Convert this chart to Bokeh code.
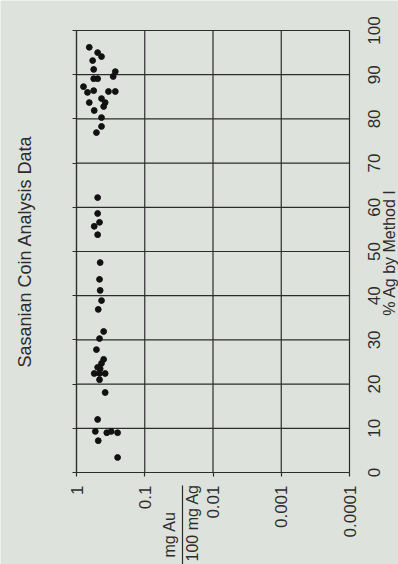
import math
from bokeh.plotting import figure
from bokeh.models import (Range1d, FixedTicker, CustomJSTickFormatter, Label, ColumnDataSource)
from bokeh.core.properties import value
from bokeh.embed import file_html
from bokeh.resources import INLINE

# ---- text ----
title_text = "Sasanian Coin Analysis Data"
ag_axis_title = "% Ag by Method I"
au_axis_numerator = "mg Au"
au_axis_denominator = "100 mg Ag"

# ---- ticks ----
au_ticks = [0.0001, 0.001, 0.01, 0.1, 1]
ag_ticks = [0, 10, 20, 30, 40, 50, 60, 70, 80, 90, 100]
ag_tick_labels = ["0", "10", "20", "30", "40", "50", "60", "70", "80", "90", "100"]

# ---- data ----
ag_pct = [96.2, 95.0, 94.1, 93.2, 91.2, 90.7, 89.1, 89.1, 89.6, 87.3,
          86.0, 86.4, 86.2, 86.2, 83.7, 84.6, 83.7, 82.8, 81.9, 80.3,
          78.3, 76.9, 62.2, 58.6, 56.6, 55.7, 53.8, 47.5, 43.7, 41.2,
          38.9, 36.9, 31.9, 30.3, 27.8, 25.6, 24.7, 23.8, 23.5, 22.4,
          22.4, 22.4, 21.0, 18.1, 12.0, 9.3, 9.0, 9.3, 9.0, 7.2, 3.4]
au_mg_per_100mg_ag = [0.65, 0.49, 0.43, 0.58, 0.56, 0.27, 0.56, 0.49, 0.29, 0.79,
                      0.69, 0.56, 0.34, 0.27, 0.65, 0.43, 0.38, 0.40, 0.55, 0.43,
                      0.43, 0.51, 0.49, 0.49, 0.46, 0.55, 0.49, 0.45, 0.46, 0.45,
                      0.43, 0.48, 0.40, 0.46, 0.51, 0.40, 0.43, 0.49, 0.45, 0.55,
                      0.46, 0.38, 0.46, 0.38, 0.49, 0.53, 0.36, 0.31, 0.25, 0.48, 0.25]

# ---- layout (pixels) ----
W, H = 398, 564
BOX_L, BOX_R, BOX_T, BOX_B = 76, 349, 30, 472

BG = "#dee2dc"
INK = "#2c2c2c"
FONT = "Liberation Sans"

au_max, au_min = max(au_ticks), min(au_ticks)
ag_min, ag_max = min(ag_ticks), max(ag_ticks)
px_per_decade = (BOX_R - BOX_L) / math.log10(au_max / au_min)
px_per_unit = (BOX_B - BOX_T) / (ag_max - ag_min)


def au_at(px):
    return 10 ** (math.log10(au_max) - (px - BOX_L) / px_per_decade)


def ag_at(py):
    return ag_min + (BOX_B - py) / px_per_unit


src = ColumnDataSource(dict(au=au_mg_per_100mg_ag, ag=ag_pct))

p = figure(width=W, height=H, x_axis_type="log",
           x_range=Range1d(au_at(0), au_at(W)), y_range=Range1d(ag_at(H), ag_at(0)),
           output_backend="svg", toolbar_location=None, min_border=0,
           background_fill_color=BG, border_fill_color=BG, outline_line_color=None)
p.title.visible = False
p.grid.visible = False

# grid lines and box, drawn from the tick lists
p.segment(x0=[au_max] * len(ag_ticks), x1=[au_min] * len(ag_ticks), y0=ag_ticks, y1=ag_ticks,
          line_color=INK, line_width=1.2)
p.segment(x0=au_ticks, x1=au_ticks, y0=[ag_min] * len(au_ticks), y1=[ag_max] * len(au_ticks),
          line_color=INK, line_width=1.2)

# bottom (log) axis, pinned to the box
xa = p.xaxis[0]
xa.fixed_location = ag_min
xa.bounds = (au_min, au_max)
xa.ticker = FixedTicker(ticks=au_ticks)
xa.formatter = CustomJSTickFormatter(code="return tick.toString()")
xa.major_label_orientation = math.pi / 2
xa.major_label_text_font_size = "17px"
xa.major_label_text_font = FONT
xa.major_label_text_color = INK
xa.major_label_standoff = 9
xa.major_tick_out = 4
xa.major_tick_in = 0
xa.major_tick_line_color = INK
xa.major_tick_line_width = 1.2
xa.minor_tick_line_color = None
xa.axis_line_color = INK
xa.axis_line_width = 1.2

# left axis: tick stubs only
ya = p.yaxis[0]
ya.fixed_location = au_max
ya.bounds = (ag_min, ag_max)
ya.ticker = FixedTicker(ticks=ag_ticks)
ya.formatter = CustomJSTickFormatter(code="return ''")
ya.major_tick_out = 4
ya.major_tick_in = 0
ya.major_label_standoff = 0
ya.major_tick_line_color = INK
ya.major_tick_line_width = 1.2
ya.minor_tick_line_color = None
ya.axis_line_color = INK
ya.axis_line_width = 1.2

# % Ag tick labels on the right side of the box
p.text(x=[au_at(373)] * len(ag_ticks), y=ag_ticks, text=ag_tick_labels,
       angle=math.pi / 2, text_align="center", text_baseline="middle",
       text_font=value(FONT), text_font_size="17px", text_color=INK)

# points
p.scatter(x="au", y="ag", source=src, size=5.8, color="#111111")

# titles
p.add_layout(Label(x=au_at(24), y=ag_at(251), text=title_text,
                   angle=math.pi / 2, text_align="center", text_baseline="middle",
                   text_font_size="18px", text_font=FONT, text_color=INK))
p.add_layout(Label(x=au_at(389), y=ag_at(252), text=ag_axis_title,
                   angle=math.pi / 2, text_align="center", text_baseline="middle",
                   text_font_size="16px", text_font=FONT, text_color=INK))
p.add_layout(Label(x=au_at(169), y=ag_at(557), text=au_axis_numerator,
                   angle=math.pi / 2, text_align="left", text_baseline="middle",
                   text_font_size="16px", text_font=FONT, text_color=INK))
p.add_layout(Label(x=au_at(192), y=ag_at(561), text=au_axis_denominator,
                   angle=math.pi / 2, text_align="left", text_baseline="middle",
                   text_font_size="16px", text_font=FONT, text_color=INK))
p.segment(x0=[au_at(182)], x1=[au_at(182)], y0=[ag_at(485)], y1=[ag_at(H)],
          line_color=INK, line_width=1.2)

open("out.html", "w").write(file_html(p, INLINE))
